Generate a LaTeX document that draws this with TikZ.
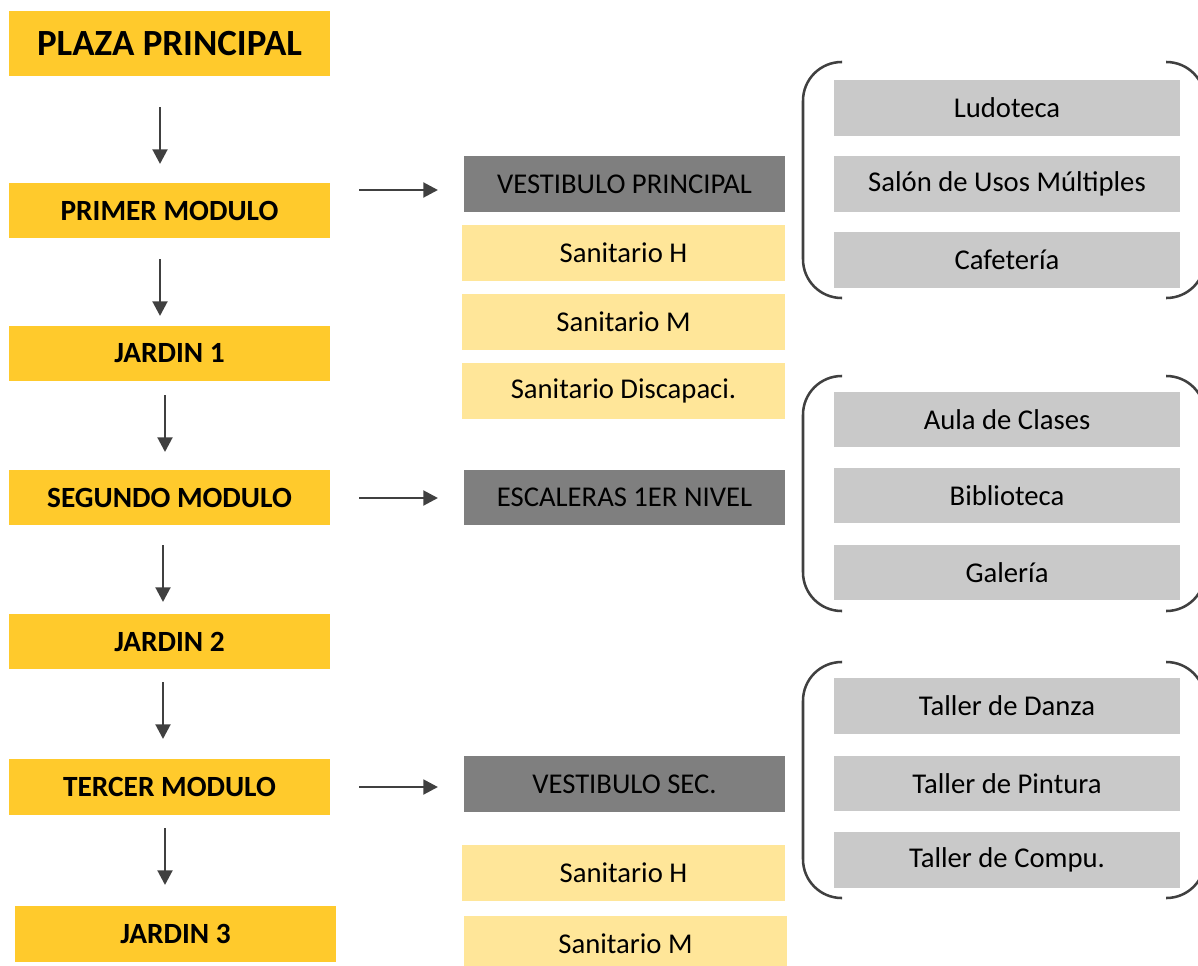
\documentclass[tikz,border=0pt]{standalone}
\usepackage{fontspec}
\setmainfont{Carlito}
\usetikzlibrary{arrows.meta}
\definecolor{gold}{HTML}{FFCA2C}
\definecolor{lightgold}{HTML}{FFE699}
\definecolor{darkgrey}{HTML}{7F7F7F}
\definecolor{lightgrey}{HTML}{C9C9C9}
\definecolor{linegrey}{HTML}{404040}
\newcommand\bx[7]{\node[#6, minimum width={(#4-#2)*0.75pt}, minimum height={(#5-#3)*0.75pt}] (#1) at ({(#2+#4)/2},{(#3+#5)/2}) {#7};}
\begin{document}
\begin{tikzpicture}[x=0.75pt,y=-0.75pt,
  base/.style={rectangle, inner sep=0pt, outer sep=0pt, draw=none, text=black},
  mainbox/.style={base, fill=gold, font=\fontsize{22}{26}\selectfont\bfseries},
  titlebox/.style={base, fill=gold, font=\fontsize{27.7}{32}\selectfont\bfseries},
  hallbox/.style={base, fill=darkgrey, font=\fontsize{21.5}{25}\selectfont},
  sanbox/.style={base, fill=lightgold, font=\fontsize{21.5}{25}\selectfont},
  roombox/.style={base, fill=lightgrey, font=\fontsize{21.5}{25}\selectfont},
  arr/.style={draw=linegrey, line width=2.2pt, -{Triangle[length=11pt,width=11pt]}},
  brace/.style={draw=linegrey, line width=1.9pt, rounded corners=29pt}]
\useasboundingbox (0,0) rectangle (1198,965);
\clip (0,0) rectangle (1198,965);
% left column
\bx{plaza}{9}{11}{330}{76}{titlebox}{PLAZA PRINCIPAL}
\bx{primer}{9}{183}{330}{238}{mainbox}{PRIMER MODULO}
\bx{jard1}{9}{326}{330}{381}{mainbox}{JARDIN 1}
\bx{segundo}{9}{470}{330}{525}{mainbox}{SEGUNDO MODULO}
\bx{jard2}{9}{614}{330}{669}{mainbox}{JARDIN 2}
\bx{tercer}{9}{759}{330}{815}{mainbox}{TERCER MODULO}
\bx{jard3}{15}{906}{336}{962}{mainbox}{JARDIN 3}
% middle column
\bx{vp}{464}{156}{785}{212}{hallbox}{VESTIBULO PRINCIPAL}
\bx{sh1}{462}{225}{785}{281}{sanbox}{Sanitario H}
\bx{sm1}{462}{294}{785}{350}{sanbox}{Sanitario M}
\bx{sd}{462}{363}{785}{419}{sanbox}{Sanitario Discapaci.}
\bx{esc}{464}{470}{785}{525}{hallbox}{ESCALERAS 1ER NIVEL}
\bx{vs}{464}{756}{785}{812}{hallbox}{VESTIBULO SEC.}
\bx{sh2}{462}{845}{785}{901}{sanbox}{Sanitario H}
\bx{sm2}{464}{916}{787}{972}{sanbox}{Sanitario M}
% right column
\bx{lud}{834}{80}{1180}{136}{roombox}{Ludoteca}
\bx{sal}{834}{156}{1180}{212}{roombox}{Salón de Usos Múltiples}
\bx{caf}{834}{232}{1180}{288}{roombox}{Cafetería}
\bx{aula}{834}{392}{1180}{447}{roombox}{Aula de Clases}
\bx{bib}{834}{468}{1180}{523}{roombox}{Biblioteca}
\bx{gal}{834}{545}{1180}{600}{roombox}{Galería}
\bx{danza}{834}{678}{1180}{734}{roombox}{Taller de Danza}
\bx{pint}{834}{756}{1180}{811}{roombox}{Taller de Pintura}
\bx{comp}{834}{832}{1180}{888}{roombox}{Taller de Compu.}
% vertical arrows
\coordinate (v1a) at (160,107); \coordinate (v1b) at (160,164);
\coordinate (v2a) at (160,259); \coordinate (v2b) at (160,316);
\coordinate (v3a) at (165,395); \coordinate (v3b) at (165,452);
\coordinate (v4a) at (163,545); \coordinate (v4b) at (163,602);
\coordinate (v5a) at (163,682); \coordinate (v5b) at (163,739);
\coordinate (v6a) at (165,828); \coordinate (v6b) at (165,885);
\foreach \i in {1,...,6} {\draw[arr] (v\i a) -- (v\i b);}
% horizontal arrows
\coordinate (h1a) at (359,190); \coordinate (h1b) at (438,190);
\coordinate (h2a) at (359,498); \coordinate (h2b) at (438,498);
\coordinate (h3a) at (359,787); \coordinate (h3b) at (438,787);
\foreach \i in {1,2,3} {\draw[arr] (h\i a) -- (h\i b);}
% brackets
\foreach \t/\b in {62/298, 376/611, 662/898} {
  \draw[brace] (842,\t) -- (803,\t) -- (803,\b) -- (842,\b);
  \draw[brace] (1166,\t) -- (1205,\t) -- (1205,\b) -- (1166,\b);
}
\end{tikzpicture}
\end{document}
